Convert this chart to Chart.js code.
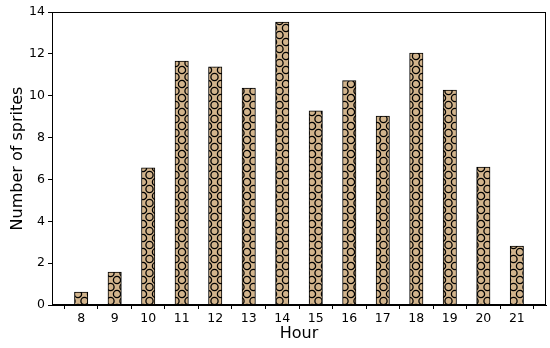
<!DOCTYPE html>
<html>
<head>
<meta charset="utf-8">
<script src="https://cdn.jsdelivr.net/npm/chart.js@4/dist/chart.umd.min.js"></script>
<style>
html,body{margin:0;padding:0;background:#fff;}
#wrap{width:550px;height:348px;}
</style>
</head>
<body>
<div id="wrap"><canvas id="c" width="550" height="348"></canvas></div>
<script>
const hours = [8, 9, 10, 11, 12, 13, 14, 15, 16, 17, 18, 19, 20, 21];
const sprites = [0.62, 1.57, 6.55, 11.66, 11.38, 10.37, 13.52, 9.28, 10.72, 9.03, 12.04, 10.27, 6.59, 2.82];
const yTicks = [0, 2, 4, 6, 8, 10, 12, 14];

function makePattern() {
  const w = 13, h = 14;
  const t = document.createElement('canvas');
  t.width = w; t.height = h;
  const g = t.getContext('2d');
  g.fillStyle = '#D2B48C';
  g.fillRect(0, 0, w, h);
  g.strokeStyle = '#000';
  g.lineWidth = 1.3;
  const centers = [[0,0],[w,0],[0,h],[w,h],[w/2,h/2]];
  for (const [cx, cy] of centers) {
    g.beginPath();
    g.arc(cx, cy, 3.6, 0, Math.PI * 2);
    g.stroke();
  }
  return document.getElementById('c').getContext('2d').createPattern(t, 'repeat');
}

const frame = {
  id: 'frame',
  afterDraw(chart) {
    const a = chart.chartArea, ctx = chart.ctx;
    ctx.save();
    ctx.strokeStyle = '#000';
    ctx.lineWidth = 1;
    ctx.strokeRect(Math.round(a.left) + 0.5, Math.round(a.top) + 0.5, Math.round(a.right - a.left) - 1, Math.round(a.bottom - a.top) - 1);
    ctx.restore();
  }
};

const font = "'DejaVu Sans', sans-serif";

new Chart(document.getElementById('c'), {
  type: 'bar',
  data: {
    datasets: [{
      data: hours.map((h, i) => ({x: h, y: sprites[i]})),
      backgroundColor: makePattern(),
      borderColor: '#000',
      borderWidth: 1,
      barThickness: 13.4
    }]
  },
  options: {
    responsive: false,
    animation: false,
    events: [],
    layout: {padding: {top: 12, right: 4, left: 0, bottom: 0}},
    plugins: {legend: {display: false}, tooltip: {enabled: false}},
    scales: {
      x: {
        type: 'linear',
        min: 7.13, max: 21.87,
        offset: false,
        afterBuildTicks(s) { s.ticks = hours.map(v => ({value: v})); },
        afterFit(s) { s.height = 43; },
        ticks: {color: '#000', font: {family: font, size: 12.5}, padding: 2, autoSkip: false, maxRotation: 0,
          callback: v => String(v)},
        grid: {display: true, drawOnChartArea: false, tickLength: 4, color: '#000', tickColor: '#000'},
        border: {display: true, color: '#000'},
        title: {display: true, text: 'Hour', color: '#000', font: {family: font, size: 16}, padding: {top: 1, bottom: 5}}
      },
      y: {
        min: 0, max: 14,
        afterBuildTicks(s) { s.ticks = yTicks.map(v => ({value: v})); },
        afterFit(s) { s.width = 52; },
        ticks: {color: '#000', font: {family: font, size: 12.5}, padding: 3},
        grid: {display: true, drawOnChartArea: false, tickLength: 4, color: '#000', tickColor: '#000'},
        border: {display: true, color: '#000'},
        title: {display: true, text: 'Number of sprites', color: '#000', font: {family: font, size: 16}, padding: {top: 8, bottom: 0}}
      }
    }
  },
  plugins: [frame]
});
</script>
</body>
</html>
